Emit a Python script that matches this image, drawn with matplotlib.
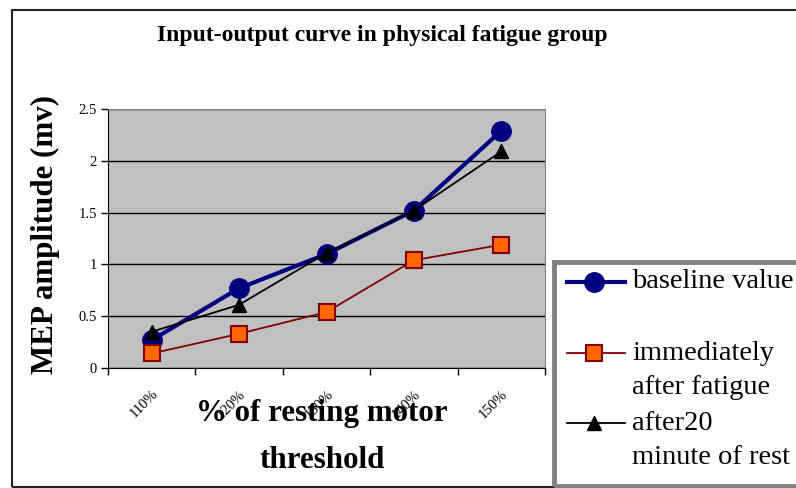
import numpy as np
import matplotlib
matplotlib.use('Agg')
import matplotlib.pyplot as plt
import matplotlib.transforms as mtransforms
from matplotlib.lines import Line2D
from matplotlib.patches import Rectangle

plt.rcParams['font.family'] = ['Liberation Serif', 'DejaVu Serif']

categorias = ['110%', '120%', '130%', '140%', '150%']
baseline = [0.27, 0.77, 1.10, 1.52, 2.29]
inmediato = [0.14, 0.33, 0.54, 1.04, 1.19]
despues20 = [0.35, 0.61, 1.11, 1.52, 2.09]

W, H = 796, 488
fig = plt.figure(figsize=(W / 100, H / 100), dpi=100)

def fx(px):
    return px / W

def fy(py):
    return 1 - py / H

# marco del grafico
fig.add_artist(Rectangle((fx(12), fy(487)), 2, fy(10) - fy(487), transform=fig.transFigure,
                         fill=False, edgecolor='#222222', linewidth=1.5))

ax = fig.add_axes([fx(108), fy(368), fx(545) - fx(108), fy(109) - fy(368)])
ax.set_facecolor('#C0C0C0')
x = np.arange(len(categorias))

ax.plot(x, despues20, color='black', lw=1.3, marker='^', ms=10, mfc='black', mec='black', zorder=4)
ax.plot(x, baseline, color='#000080', lw=3, marker='o', ms=14, mfc='#000080', mec='#000080', zorder=3)
ax.plot(x, inmediato, color='#800000', lw=1.3, marker='s', ms=11, mfc='#FF6600', mec='#800000', mew=1.5, zorder=3)

ax.set_xlim(-0.5, len(categorias) - 0.5)
ax.set_ylim(0, 2.5)
ax.set_yticks(np.arange(0, 2.51, 0.5))
ax.set_yticklabels(['0', '0.5', '1', '1.5', '2', '2.5'], fontsize=10.5)
ax.yaxis.grid(True, color='black', lw=1)
ax.set_axisbelow(True)

ax.set_xticks(np.arange(-0.5, len(categorias), 1.0), minor=True)
ax.set_xticks(x)
ax.set_xticklabels(categorias, fontsize=10.5, rotation=45, ha='right', rotation_mode='anchor')
desplaza = mtransforms.ScaledTranslation(-12 / 100, 0, fig.dpi_scale_trans)
for lab in ax.get_xticklabels():
    lab.set_transform(lab.get_transform() + desplaza)
ax.tick_params(axis='x', which='major', length=0, pad=14)
ax.tick_params(axis='x', which='minor', length=5, color='black', width=1)
ax.tick_params(axis='y', length=5, color='black', width=1, pad=3)

for s in ['top', 'right']:
    ax.spines[s].set_color('#808080')
ax.spines['left'].set_color('black')
ax.spines['bottom'].set_color('black')

fig.text(fx(382), fy(35), 'Input-output curve in physical fatigue group', ha='center', va='center',
         fontsize=17, fontweight='bold')
fig.text(fx(322), fy(413), '% of resting motor', ha='center', va='center', fontsize=22.3, fontweight='bold')
fig.text(fx(322), fy(460), 'threshold', ha='center', va='center', fontsize=22.3, fontweight='bold')
fig.text(fx(45), fy(235), 'MEP amplitude (mv)', ha='center', va='center', rotation=90,
         fontsize=22.3, fontweight='bold')

# leyenda
fig.add_artist(Rectangle((fx(554), fy(486)), 1, fy(262) - fy(486), transform=fig.transFigure,
                         fill=False, edgecolor='#808080', linewidth=3.5))
entradas = [
    (282, ['baseline value'], dict(color='#000080', lw=3, marker='o', ms=14, mfc='#000080', mec='#000080')),
    (353, ['immediately', 'after fatigue'], dict(color='#800000', lw=1.3, marker='s', ms=11, mfc='#FF6600', mec='#800000', mew=1.5)),
    (423, ['after20', 'minute of rest'], dict(color='black', lw=1.3, marker='^', ms=10, mfc='black', mec='black')),
]
for py, lineas, estilo in entradas:
    fig.add_artist(Line2D([fx(567), fx(625)], [fy(py), fy(py)], transform=fig.transFigure, **estilo,
                          markevery=[]))
    fig.add_artist(Line2D([fx(594)], [fy(py)], transform=fig.transFigure, **estilo))
    for i, t in enumerate(lineas):
        fig.text(fx(632), fy(py + 35 * i), t, ha='left', va='center', fontsize=20.5)

fig.savefig('out.png', dpi=100)
